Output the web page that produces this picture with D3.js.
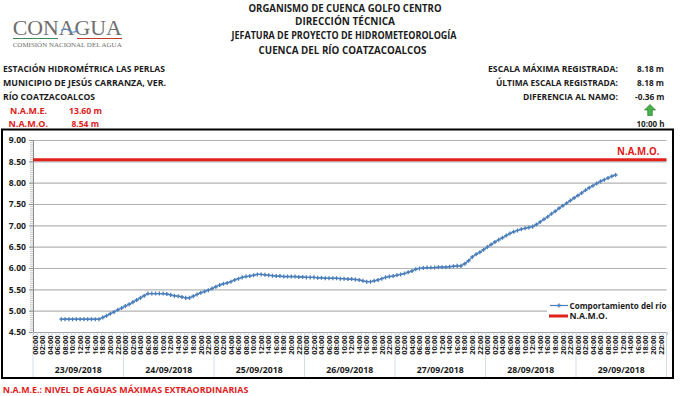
<!DOCTYPE html>
<html><head><meta charset="utf-8">
<script src="https://cdn.jsdelivr.net/npm/d3@7"></script>
<style>
body{margin:0;background:#fff}
svg{display:block}
text{font-family:"Open Sans",Lato,sans-serif;font-weight:700}
</style>
</head><body>
<svg id="chart" width="680" height="396"></svg>
<script>
// ---------------- DATA ----------------
const dates = ["23/09/2018","24/09/2018","25/09/2018","26/09/2018","27/09/2018","28/09/2018","29/09/2018"];
const hourLabels = ["00:00","02:00","04:00","06:00","08:00","10:00","12:00","14:00","16:00","18:00","20:00","22:00"];
const yTicks = [4.50,5.00,5.50,6.00,6.50,7.00,7.50,8.00,8.50,9.00];
// hourly water levels (m), one array per day, 00:00 .. 23:00
const level23 = [null,null,null,null,null,null,null,4.80,4.80,4.80,4.80,4.80,4.80,4.80,4.80,4.80,4.80,4.80,4.84,4.88,4.93,4.97,5.02,5.06];
const level24 = [5.11,5.15,5.20,5.25,5.30,5.35,5.40,5.40,5.40,5.40,5.40,5.39,5.37,5.35,5.34,5.32,5.30,5.30,5.34,5.38,5.42,5.45,5.48,5.52];
const level25 = [5.56,5.60,5.63,5.65,5.68,5.72,5.75,5.78,5.80,5.81,5.83,5.85,5.85,5.84,5.83,5.82,5.81,5.81,5.80,5.80,5.80,5.80,5.79,5.79];
const level26 = [5.78,5.78,5.78,5.77,5.77,5.76,5.76,5.76,5.76,5.75,5.75,5.74,5.74,5.73,5.72,5.70,5.68,5.68,5.70,5.72,5.75,5.78,5.80,5.81];
const level27 = [5.83,5.85,5.87,5.90,5.93,5.97,5.99,6.00,6.01,6.01,6.01,6.02,6.02,6.02,6.03,6.04,6.05,6.05,6.10,6.17,6.26,6.32,6.37,6.43];
const level28 = [6.49,6.55,6.61,6.66,6.71,6.76,6.81,6.85,6.88,6.91,6.93,6.95,6.97,7.02,7.08,7.14,7.20,7.27,7.33,7.40,7.46,7.52,7.58,7.64];
const level29 = [7.70,7.76,7.82,7.88,7.93,7.98,8.03,8.07,8.11,8.15,8.18,null,null,null,null,null,null,null,null,null,null,null,null,null];
const namo = 8.54;
const name_ = 13.60;
const maxLevel = 8.18, lastLevel = 8.18, diffNamo = -0.36, lastTime = "10:00 h";
const seriesNames = ["Comportamiento del río","N.A.M.O."];

// ---------------- SETUP ----------------
const svg = d3.select("#chart");
const BLUE = "#4a7ebb", RED = "#e0201b", TXT = "#1c1c1c";
const levels = [].concat(level23, level24, level25, level26, level27, level28, level29);
const nH = levels.length;
const L = 33, R = 666.5, T = 140, B = 332;
const x = d3.scaleLinear().domain([0, nH]).range([L, R]);
const y = d3.scaleLinear().domain([4.5, 9]).range([B, T]);
const dayX = d3.scaleBand().domain(dates).range([L, R]);

// ---------------- HEADER ----------------
svg.append("text").attr("x",12.7).attr("y",35).attr("textLength",109).attr("lengthAdjust","spacingAndGlyphs")
  .style("font-family","'Liberation Serif',serif").style("font-weight","normal").style("font-size","21px").attr("fill","#6e6e6e").text("CONAGUA");
svg.append("path").attr("d","M61,30.5 q4,-3.5 8,0 t8,0").attr("fill","none").attr("stroke","#5b8fd0").attr("stroke-width",1.2);
svg.append("line").attr("x1",13).attr("x2",58).attr("y1",38.5).attr("y2",38.5).attr("stroke","#3a8a55").attr("stroke-width",1);
svg.append("line").attr("x1",77).attr("x2",122).attr("y1",38.5).attr("y2",38.5).attr("stroke","#c0392b").attr("stroke-width",1);
svg.append("text").attr("x",12.7).attr("y",46.5).attr("textLength",109).attr("lengthAdjust","spacingAndGlyphs")
  .style("font-family","'Liberation Serif',serif").style("font-weight","normal").style("font-size","6px").attr("fill","#6e6e6e").text("COMISIÓN NACIONAL DEL AGUA");

function txt(s, xx, yy, opts) {
  opts = opts || {};
  const t = svg.append("text").attr("x", xx).attr("y", yy)
    .attr("fill", opts.fill || TXT).style("font-size", (opts.size || 9.5) + "px")
    .attr("text-anchor", opts.anchor || "start").text(s);
  if (opts.len) t.attr("textLength", opts.len).attr("lengthAdjust", "spacingAndGlyphs");
  return t;
}
txt("ORGANISMO DE CUENCA GOLFO CENTRO", 345, 11.5, {anchor:"middle", len:193, size:10});
txt("DIRECCIÓN TÉCNICA", 345, 25, {anchor:"middle", len:100, size:10});
txt("JEFATURA DE PROYECTO DE HIDROMETEOROLOGÍA", 344, 39, {anchor:"middle", len:225, size:10});
txt("CUENCA DEL RÍO COATZACOALCOS", 342.5, 53.5, {anchor:"middle", len:168, size:10});
txt("ESTACIÓN HIDROMÉTRICA LAS PERLAS", 3, 71.5, {len:162});
txt("MUNICIPIO DE JESÚS CARRANZA, VER.", 3, 85.5, {len:163});
txt("RÍO COATZACOALCOS", 3, 99.5, {len:92});
txt("N.A.M.E.", 10, 113.5, {len:37, fill:RED});
txt(name_.toFixed(2) + " m", 69, 113.5, {len:33, fill:RED});
txt("N.A.M.O.", 8.5, 127, {len:39.5, fill:RED});
txt(namo.toFixed(2) + " m", 71.5, 127, {len:27.5, fill:RED});
txt("ESCALA MÁXIMA REGISTRADA:", 618, 71.5, {anchor:"end", len:130});
txt("ÚLTIMA ESCALA REGISTRADA:", 618, 85.5, {anchor:"end", len:122});
txt("DIFERENCIA AL NAMO:", 618, 99.5, {anchor:"end", len:95});
txt(maxLevel.toFixed(2) + " m", 664, 71.5, {anchor:"end", len:27});
txt(lastLevel.toFixed(2) + " m", 664, 85.5, {anchor:"end", len:27});
txt(diffNamo.toFixed(2) + " m", 664.5, 99.5, {anchor:"end", len:29.5});
svg.append("path").attr("d","M650,104.5 L655.5,110 L652.3,110 L652.3,115.5 L647.7,115.5 L647.7,110 L644.5,110 Z")
  .attr("fill","#46b04a").attr("stroke","#2d7d32").attr("stroke-width",0.7);
txt(lastTime, 664.5, 126.5, {anchor:"end", len:28});
txt("N.A.M.E.: NIVEL DE AGUAS MÁXIMAS EXTRAORDINARIAS", 2.7, 392.5, {len:245.6, fill:RED});

// ---------------- CHART FRAME ----------------
svg.append("rect").attr("x",2).attr("y",129.5).attr("width",671).attr("height",248.5)
  .attr("fill","none").attr("stroke","#000").attr("stroke-width",2);

const grid = svg.append("g").attr("transform",`translate(${L},0)`)
  .call(d3.axisLeft(y).tickValues(yTicks.slice(1)).tickSize(-(R - L)).tickFormat(""));
grid.select(".domain").remove();
grid.selectAll("line").attr("stroke","#b3b3b3").attr("stroke-width",1.2);

const minor = svg.append("g").attr("transform",`translate(${L},0)`)
  .call(d3.axisLeft(y).tickValues(d3.range(90, 181, 1).map(v => v / 20)).tickSize(3).tickFormat(""));
minor.select(".domain").remove();
minor.selectAll("line").attr("stroke","#9a9a9a").attr("stroke-width",0.6);

const yAxis = svg.append("g").attr("transform",`translate(${L},0)`)
  .call(d3.axisLeft(y).tickValues(yTicks).tickSize(4).tickFormat(d3.format(".2f")));
yAxis.select(".domain").attr("stroke","#8c8c8c");
yAxis.selectAll("line").attr("stroke","#8c8c8c");
yAxis.selectAll("text").attr("x",-7).attr("fill",TXT).style("font-size","8.6px")
  .style("font-family","'Open Sans',sans-serif").style("font-weight","700");

const xAxis = svg.append("g").attr("transform",`translate(0,${B})`)
  .call(d3.axisBottom(x).tickValues(d3.range(0, nH + 1)).tickSize(3).tickFormat(""));
xAxis.select(".domain").attr("stroke","#a0a0a0");
xAxis.selectAll("line").attr("stroke","#a9c0de").attr("stroke-width",0.7);

svg.append("g").selectAll("line").data(d3.range(0, dates.length + 1)).join("line")
  .attr("x1", d => x(d * 24)).attr("x2", d => x(d * 24))
  .attr("y1", B).attr("y2", 377).attr("stroke","#c8d3e3").attr("stroke-width",0.8);

const hourIdx = [];
dates.forEach((d, di) => hourLabels.forEach((h, hi) => hourIdx.push({i: di * 24 + hi * 2, h})));
svg.append("g").selectAll("text").data(hourIdx).join("text")
  .attr("transform", d => `translate(${x(d.i + 0.5)},335.5) rotate(-90)`)
  .attr("dy","0.36em").attr("text-anchor","end").attr("fill",TXT)
  .style("font-size","7.5px").text(d => d.h);

svg.append("g").selectAll("text").data(dates).join("text")
  .attr("x", d => dayX(d) + dayX.bandwidth() / 2).attr("y", 373)
  .attr("text-anchor","middle").attr("fill",TXT).style("font-size","8.7px").text(d => d);

svg.append("line").attr("x1", L).attr("x2", R).attr("y1", y(namo)).attr("y2", y(namo))
  .attr("stroke", RED).attr("stroke-width", 3);
txt("N.A.M.O.", 659.5, 154.5, {anchor:"end", size:10.5, fill:RED, len:42.5});

const pts = levels.map((v, i) => ({i, v})).filter(d => d.v != null);
svg.append("path").datum(pts)
  .attr("d", d3.line().x(d => x(d.i + 0.5)).y(d => y(d.v)))
  .attr("fill","none").attr("stroke", BLUE).attr("stroke-width", 1.2);
const sym = d3.symbol().type(d3.symbolCross).size(9);
svg.append("g").selectAll("path").data(pts).join("path")
  .attr("transform", d => `translate(${x(d.i + 0.5)},${y(d.v)})`)
  .attr("d", sym).attr("fill", BLUE);

const lg = svg.append("g");
lg.append("rect").attr("x",547).attr("y",299).attr("width",119).attr("height",23).attr("fill","#fff");
lg.append("line").attr("x1",550).attr("x2",568).attr("y1",305.5).attr("y2",305.5).attr("stroke",BLUE).attr("stroke-width",1.2);
lg.append("path").attr("transform","translate(559,305.5)").attr("d",sym).attr("fill",BLUE);
lg.append("line").attr("x1",549).attr("x2",568).attr("y1",316).attr("y2",316).attr("stroke",RED).attr("stroke-width",3);
txt(seriesNames[0], 569.5, 308.5, {size:8.3, len:97});
txt(seriesNames[1], 569.5, 319, {size:8.3, len:38});
</script>
</body></html>
